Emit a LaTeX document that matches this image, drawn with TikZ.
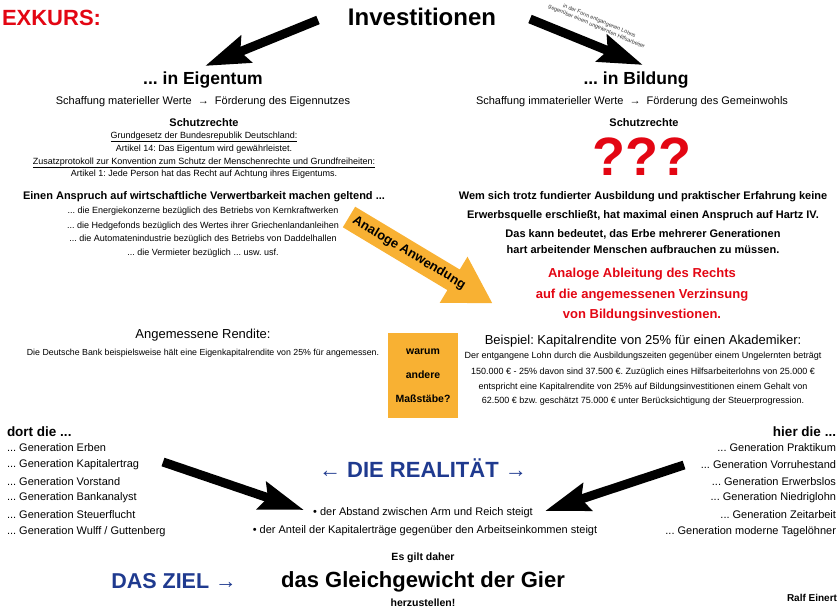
\documentclass[tikz,border=0pt]{standalone}
\usepackage{fontspec}
\setmainfont{Liberation Sans}
\usetikzlibrary{arrows.meta}
\definecolor{exred}{HTML}{E30613}
\definecolor{exblue}{HTML}{1F3A8F}
\definecolor{exorange}{HTML}{F8B133}
\newcommand\fsz[1]{\fontsize{#1}{#1}\selectfont}
\frenchspacing
\begin{document}
\begin{tikzpicture}[x=1pt,y=-1pt,
  every node/.style={inner sep=0pt, outer sep=0pt},
  blk/.style={line width=9pt, -{Stealth[length=44pt,width=28pt,inset=6pt]}},
  small/.style={font=\fsz{9}},
  mid/.style={font=\fsz{11}},
  bmid/.style={font=\bfseries\fsz{11}},
  head/.style={font=\bfseries\fsz{17.5}},
  redl/.style={font=\bfseries\fsz{13}, text=exred},
  item/.style={font=\fsz{11}}]
\useasboundingbox (0,0) rectangle (840,610);

% top
\node[font=\bfseries\fsz{22}, text=exred, anchor=west] (exkurs) at (2,18) {EXKURS:};
\node[font=\bfseries\fsz{24}] (invest) at (422,17) {Investitionen};
\coordinate (a1s) at (318,20); \coordinate (a1e) at (205,66);
\coordinate (a2s) at (530,19); \coordinate (a2e) at (643,65);
\draw[blk] (a1s) -- (a1e);
\draw[blk] (a2s) -- (a2e);
\node[font=\fontsize{5.5}{6.5}\selectfont, align=center, rotate=-23, text=black!80] (lohn) at (598,24)
  {in der Form entgangenen Lohns\\gegenüber einem ungelernten Hilfsarbeiter};

% left column
\node[head] (eig) at (203,80) {... in Eigentum};
\node[mid] (eigsub) at (203,101.5) {Schaffung materieller Werte ~→~ Förderung des Eigennutzes};
\node[bmid] (lschutz) at (204,123) {Schutzrechte};
\node[small] (gg) at (204,137) {\underline{Grundgesetz der Bundesrepublik Deutschland:}};
\node[small] (art14) at (204,149) {Artikel 14: Das Eigentum wird gewährleistet.};
\node[small] (zp) at (204,163) {\underline{Zusatzprotokoll zur Konvention zum Schutz der Menschenrechte und Grundfreiheiten:}};
\node[small] (art1) at (204,174) {Artikel 1: Jede Person hat das Recht auf Achtung ihres Eigentums.};
\node[bmid] (anspruch) at (204,197) {Einen Anspruch auf wirtschaftliche Verwertbarkeit machen geltend ...};
\node[small] (l1) at (203,211) {... die Energiekonzerne bezüglich des Betriebs von Kernkraftwerken};
\node[small] (l2) at (203,226) {... die Hedgefonds bezüglich des Wertes ihrer Griechenlandanleihen};
\node[small] (l3) at (203,239) {... die Automatenindustrie bezüglich des Betriebs von Daddelhallen};
\node[small] (l4) at (203,253) {... die Vermieter bezüglich ... usw. usf.};
\node[font=\fsz{13}] (rendite) at (203,335) {Angemessene Rendite:};
\node[font=\fsz{8.8}] (bank) at (203,353) {Die Deutsche Bank beispielsweise hält eine Eigenkapitalrendite von 25\% für angemessen.};

% right column
\node[head] (bild) at (636,80) {... in Bildung};
\node[mid] (bildsub) at (632,101.5) {Schaffung immaterieller Werte ~→~ Förderung des Gemeinwohls};
\node[bmid] (rschutz) at (644,123) {Schutzrechte};
\node[font=\bfseries\fsz{54}, text=exred] (qqq) at (642,157) {???};
\node[bmid] (w1) at (643,197) {Wem sich trotz fundierter Ausbildung und praktischer Erfahrung keine};
\node[bmid] (w2) at (643,216) {Erwerbsquelle erschließt, hat maximal einen Anspruch auf Hartz IV.};
\node[bmid] (w3) at (643,234) {Das kann bedeutet, das Erbe mehrerer Generationen};
\node[bmid] (w4) at (643,250) {hart arbeitender Menschen aufbrauchen zu müssen.};
\node[redl] (r1) at (642,274) {Analoge Ableitung des Rechts};
\node[redl] (r2) at (642,295) {auf die angemessenen Verzinsung};
\node[redl] (r3) at (642,315) {von Bildungsinvestionen.};
\node[font=\fsz{13}] (beispiel) at (643,341) {Beispiel: Kapitalrendite von 25\% für einen Akademiker:};
\node[small] (b1) at (643,356) {Der entgangene Lohn durch die Ausbildungszeiten gegenüber einem Ungelernten beträgt};
\node[small] (b2) at (643,372) {150.000 € - 25\% davon sind 37.500 €. Zuzüglich eines Hilfsarbeiterlohns von 25.000 €};
\node[small] (b3) at (643,387) {entspricht eine Kapitalrendite von 25\% auf Bildungsinvestitionen einem Gehalt von};
\node[small] (b4) at (643,401) {62.500 € bzw. geschätzt 75.000 € unter Berücksichtigung der Steuerprogression.};

% orange arrow
\begin{scope}[shift={(349,217)}, rotate=-31]
  \fill[exorange] (0,-12) -- (122,-12) -- (122,-27) -- (167,0) -- (122,27) -- (122,12) -- (0,12) -- cycle;
  \node[font=\bfseries\fsz{13}, rotate=-31] (analog) at (70,0) {Analoge Anwendung};
\end{scope}

% orange box
\node[fill=exorange, minimum width=70pt, minimum height=85pt, align=center,
      font=\bfseries\fontsize{10.5}{24}\selectfont] (box) at (423,375.5) {warum\\andere\\Maßstäbe?};

% bottom lists
\node[font=\bfseries\fsz{13.5}, anchor=west] (dort) at (7,432) {dort die ...};
\node[item, anchor=west] (d1) at (7,448) {... Generation Erben};
\node[item, anchor=west] (d2) at (7,465) {... Generation Kapitalertrag};
\node[item, anchor=west] (d3) at (7,482) {... Generation Vorstand};
\node[item, anchor=west] (d4) at (7,498) {... Generation Bankanalyst};
\node[item, anchor=west] (d5) at (7,515) {... Generation Steuerflucht};
\node[item, anchor=west] (d6) at (7,532) {... Generation Wulff / Guttenberg};

\node[font=\bfseries\fsz{13.5}, anchor=east] (hier) at (836,432) {hier die ...};
\node[item, anchor=east] (h1) at (836,448) {... Generation Praktikum};
\node[item, anchor=east] (h2) at (836,465) {... Generation Vorruhestand};
\node[item, anchor=east] (h3) at (836,482) {... Generation Erwerbslos};
\node[item, anchor=east] (h4) at (836,498) {... Generation Niedriglohn};
\node[item, anchor=east] (h5) at (836,515) {... Generation Zeitarbeit};
\node[item, anchor=east] (h6) at (836,532) {... Generation moderne Tagelöhner};

\node[font=\fsz{22}, text=exblue] (real) at (423,468) {← \textbf{DIE REALITÄT} →};
\coordinate (a3s) at (163,462); \coordinate (a3e) at (304,510);
\coordinate (a4s) at (684,465); \coordinate (a4e) at (545,511);
\draw[blk] (a3s) -- (a3e);
\draw[blk] (a4s) -- (a4e);
\node[item] (p1) at (423,513) {• der Abstand zwischen Arm und Reich steigt};
\node[item] (p2) at (425,531) {• der Anteil der Kapitalerträge gegenüber den Arbeitseinkommen steigt};

\node[font=\bfseries\fsz{10.5}] (esgilt) at (423,558) {Es gilt daher};
\node[font=\bfseries\fsz{22}] (gier) at (423,582) {das Gleichgewicht der Gier};
\node[font=\bfseries\fsz{10.5}] (herz) at (423,603) {herzustellen!};
\node[font=\fsz{21.5}, text=exblue] (ziel) at (174,581) {\textbf{DAS ZIEL} →};
\node[font=\bfseries\fsz{10}, anchor=east] (ralf) at (837,598) {Ralf Einert};
\end{tikzpicture}
\end{document}
